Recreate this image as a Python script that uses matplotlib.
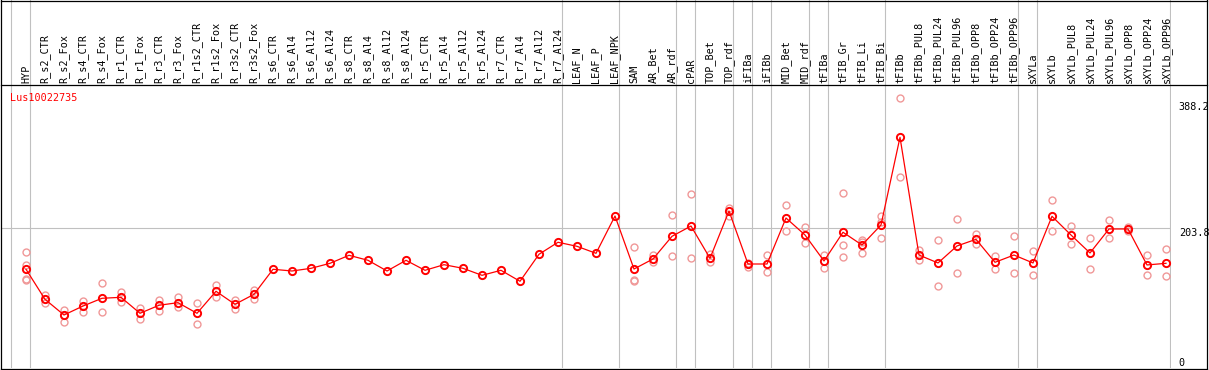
import matplotlib
matplotlib.use("Agg")
import matplotlib.pyplot as plt
import matplotlib.transforms as mtransforms

# sample names, in drawing order
samples = [
    "HYP",
    "R_s2_CTR", "R_s2_Fox", "R_s4_CTR", "R_s4_Fox", "R_r1_CTR", "R_r1_Fox",
    "R_r3_CTR", "R_r3_Fox", "R_r1s2_CTR", "R_r1s2_Fox", "R_r3s2_CTR", "R_r3s2_Fox",
    "R_s6_CTR", "R_s6_Al4", "R_s6_Al12", "R_s6_Al24",
    "R_s8_CTR", "R_s8_Al4", "R_s8_Al12", "R_s8_Al24",
    "R_r5_CTR", "R_r5_Al4", "R_r5_Al12", "R_r5_Al24",
    "R_r7_CTR", "R_r7_Al4", "R_r7_Al12", "R_r7_Al24",
    "LEAF_N", "LEAF_P", "LEAF_NPK",
    "SAM", "AR_Bet", "AR_rdf",
    "cPAR",
    "TOP_Bet", "TOP_rdf",
    "iFIBa",
    "iFIBb",
    "MID_Bet", "MID_rdf",
    "tFIBa",
    "tFIB_Gr", "tFIB_Li", "tFIB_Bi",
    "tFIBb", "tFIBb_PUL8", "tFIBb_PUL24", "tFIBb_PUL96",
    "tFIBb_OPP8", "tFIBb_OPP24", "tFIBb_OPP96",
    "sXYLa",
    "sXYLb", "sXYLb_PUL8", "sXYLb_PUL24", "sXYLb_PUL96",
    "sXYLb_OPP8", "sXYLb_OPP24", "sXYLb_OPP96",
]

# index of the last sample of each group (separator drawn just after it)
group_ends = [-1, 0, 28, 31, 34, 35, 37, 38, 39, 41, 42, 45, 52, 53, 60]

means = [
    144.0, 100.2, 77.3, 90.4, 101.7, 103.1, 79.8, 91.5, 95.3, 79.8,
    111.9, 92.9, 107.5, 144.0, 141.5, 145.4, 152.7, 164.4, 157.1, 141.5,
    157.1, 142.5, 150.7, 145.4, 135.2, 142.5, 126.5, 165.9, 183.4, 177.5,
    167.3, 221.7, 144.4, 159.0, 192.1, 207.1, 160.0, 229.0, 151.7, 151.7,
    218.8, 194.0, 156.1, 198.0, 179.4, 208.6, 336.5, 164.8, 153.2, 178.0,
    187.7, 154.2, 164.8, 153.2, 221.3, 194.0, 167.8, 202.8, 202.8, 150.3,
    152.7,
]

replicates = [
    [168.8, 150.3, 129.4, 127.9],
    [106.9, 100.2, 94.4],
    [84.6, 77.3, 67.5],
    [98.2, 82.1],
    [123.6, 81.3],
    [110.9, 96.7],
    [87.5, 71.0],
    [99.6, 83.6],
    [103.1, 89.0],
    [94.4, 63.7],
    [121.1, 103.6],
    [99.6, 86.1],
    [114.2, 100.7],
    [], [], [], [], [], [], [], [], [], [], [], [], [], [], [], [], [], [], [],
    [176.1, 128.4, 126.9],
    [164.4, 154.2],
    [223.2, 162.9],
    [253.8, 160.0],
    [165.9, 155.1],
    [233.8, 222.2],
    [153.6, 147.8],
    [164.4, 139.6],
    [237.3, 199.4],
    [206.1, 182.8],
    [164.8, 145.4],
    [254.9, 179.0, 161.5],
    [186.7, 183.4, 167.3],
    [221.7, 213.4, 189.2],
    [393.4, 278.2],
    [172.1, 157.6],
    [186.7, 119.6],
    [216.9, 138.6],
    [195.5, 180.5],
    [163.8, 144.0],
    [192.6, 138.6],
    [170.2, 135.2],
    [244.6, 199.4],
    [207.1, 180.9],
    [189.2, 144.0],
    [215.5, 189.6],
    [206.1, 200.3],
    [164.8, 135.2],
    [173.2, 133.8],
]

gene = "Lus10022735"
ytick_vals = [388.2, 203.8, 0]

W, H = 1209, 370
MONO = "DejaVu Sans Mono"
GRID = "#C0C0C0"

fig = plt.figure(figsize=(W / 100, H / 100), dpi=100)

def px_box(x0, y0, x1, y1):
    # pixel box (top-left origin) -> figure fraction rect
    return [x0 / W, 1 - y1 / H, (x1 - x0) / W, (y1 - y0) / H]

x_left, x_right = 2, 1170.7
ax = fig.add_axes(px_box(x_left, 85, x_right, 368))
ax_top = fig.add_axes(px_box(x_left, 0, x_right, 85), sharex=ax)

step = 19.0
xmin = (x_left - 26) / step
xmax = (x_right - 26) / step
ax.set_xlim(xmin, xmax)
ax.set_ylim(0, 412.8)
ax_top.set_ylim(0, 1)

for a in (ax, ax_top):
    a.axis("off")

# group separators through both panels
for g in group_ends:
    ax.axvline(g + 4 / step, color=GRID, lw=0.8, zorder=0)
    ax_top.axvline(g + 4 / step, color=GRID, lw=0.8, zorder=0)

ax.axhline(203.8, color=GRID, lw=0.8, zorder=0)

# replicate points
for i, reps in enumerate(replicates):
    if reps:
        ax.plot([i] * len(reps), reps, "o", mfc="none", mec="#F09898",
                ms=5, mew=1.0, zorder=2)

# mean line
xs = list(range(len(samples)))
ax.plot(xs, means, "-", color="#FF0000", lw=0.9, zorder=3)
ax.plot(xs, means, "o", mfc="none", mec="#FF0000", ms=5.2, mew=1.4, zorder=4)

# sample labels
for i, name in enumerate(samples):
    ax_top.text(i, 0.025, name, rotation=90, ha="center", va="bottom",
                family=MONO, fontsize=7.3, color="black")

ax.text((10 - x_left) / (x_right - x_left), 0.955, gene,
        transform=ax.transAxes, ha="left", va="center",
        family=MONO, fontsize=7.3, color="#FF0000")

# right value labels
trans = mtransforms.blended_transform_factory(ax.transAxes, ax.transData)
for v in ytick_vals:
    ax.text(1 + 8 / (x_right - x_left), v, f"{v:g}", transform=trans,
            ha="left", va="bottom" if v == 0 else "top",
            family=MONO, fontsize=7.3, color="black", clip_on=False)

# outer frame
frame = fig.add_axes([0, 0, 1, 1], zorder=10)
frame.set_xlim(0, W)
frame.set_ylim(H, 0)
frame.axis("off")
frame.patch.set_visible(False)
k = dict(color="black", lw=0.9)
frame.plot([1, 1207], [0.5, 0.5], **k)
frame.plot([1, 1207], [368.5, 368.5], **k)
frame.plot([1, 1207], [85.3, 85.3], **k)
frame.plot([1, 1], [0, 368.5], **k)
frame.plot([1207, 1207], [0, 368.5], **k)

fig.savefig("out.png", dpi=100)
plt.close(fig)
